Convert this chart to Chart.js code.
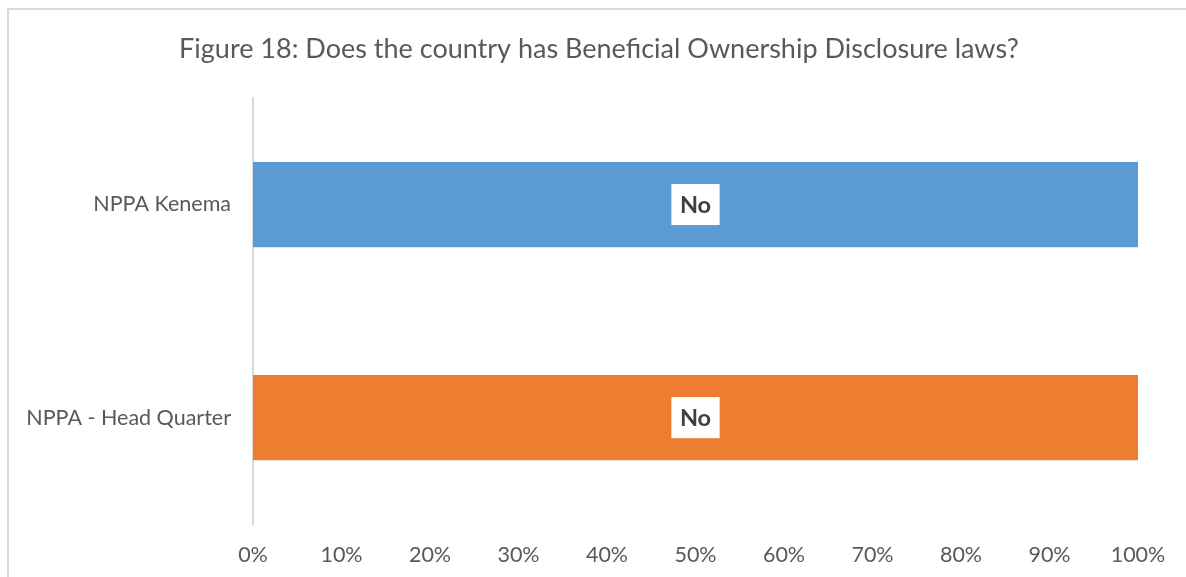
<!DOCTYPE html>
<html>
<head>
<meta charset="utf-8">
<script src="https://cdn.jsdelivr.net/npm/chart.js@4"></script>
<style>
    html, body { margin: 0; padding: 0; background: #fff; overflow: hidden; }
    #frame {
        position: absolute; left: 7px; top: 8px; width: 1300px; height: 700px;
        border-left: 2px solid #d9d9d9; border-top: 2px solid #d9d9d9;
    }
    #wrap { position: absolute; left: 0; top: 0; width: 1186px; height: 591px; }
</style>
</head>
<body>
<div id="frame"></div>
<div id="wrap"><canvas id="bo-chart"></canvas></div>
<script>
// Datos del gráfico
const chartTitle = 'Figure 18: Does the country has Beneficial Ownership Disclosure laws?';
const categories = ['NPPA Kenema', 'NPPA - Head Quarter'];
const values = [100, 100];
const answers = ['No', 'No'];
const barColors = ['#5B9BD5', '#ED7D31'];
const tickLabels = ['0%', '10%', '20%', '30%', '40%', '50%', '60%', '70%', '80%', '90%', '100%'];

const FONT = 'Lato, "Open Sans", sans-serif';

// Título centrado sobre el marco
const titlePlugin = {
    id: 'titlePlugin',
    afterDraw(chart) {
        const ctx = chart.ctx;
        ctx.save();
        ctx.font = '27px ' + FONT;
        ctx.fillStyle = '#595959';
        ctx.textAlign = 'center';
        ctx.textBaseline = 'middle';
        ctx.fillText(chartTitle, chart.width / 2 + 6, 49);
        ctx.restore();
    }
};

// Etiquetas "No" dentro de cada barra
const answerLabels = {
    id: 'answerLabels',
    afterDatasetsDraw(chart) {
        const ctx = chart.ctx;
        const meta = chart.getDatasetMeta(0);
        ctx.save();
        ctx.font = 'bold 23.5px ' + FONT;
        ctx.textAlign = 'center';
        ctx.textBaseline = 'middle';
        meta.data.forEach((bar, i) => {
            const cx = (bar.x + bar.base) / 2;
            const cy = bar.y;
            const w = ctx.measureText(answers[i]).width + 17;
            const h = 41;
            ctx.fillStyle = '#ffffff';
            ctx.fillRect(cx - w / 2, cy - h / 2, w, h);
            ctx.fillStyle = '#404040';
            ctx.fillText(answers[i], cx, cy + 1);
        });
        ctx.restore();
    }
};

const chart = new Chart(document.getElementById('bo-chart'), {
    type: 'bar',
    data: {
        labels: categories,
        datasets: [{
            data: values,
            backgroundColor: barColors,
            categoryPercentage: 1,
            barPercentage: 0.4
        }]
    },
    options: {
        indexAxis: 'y',
        responsive: true,
        maintainAspectRatio: false,
        animation: false,
        layout: { padding: { left: 0, right: 48, top: 98, bottom: 5 } },
        plugins: {
            legend: { display: false },
            tooltip: { enabled: false },
            title: { display: false }
        },
        scales: {
            x: {
                min: 0,
                max: 100,
                grid: { display: false, drawTicks: false },
                border: { display: false },
                ticks: {
                    stepSize: 10,
                    padding: 18,
                    color: '#595959',
                    font: { family: FONT, size: 21.5 },
                    callback: (v, i) => tickLabels[i]
                }
            },
            y: {
                grid: { display: false, drawTicks: false },
                border: { display: true, color: '#d9d9d9', width: 2 },
                ticks: {
                    padding: 22,
                    color: '#595959',
                    font: { family: FONT, size: 21.5 }
                },
                afterFit(scale) { scale.width = 253; }
            }
        }
    },
    plugins: [answerLabels, titlePlugin]
});
</script>
</body>
</html>
